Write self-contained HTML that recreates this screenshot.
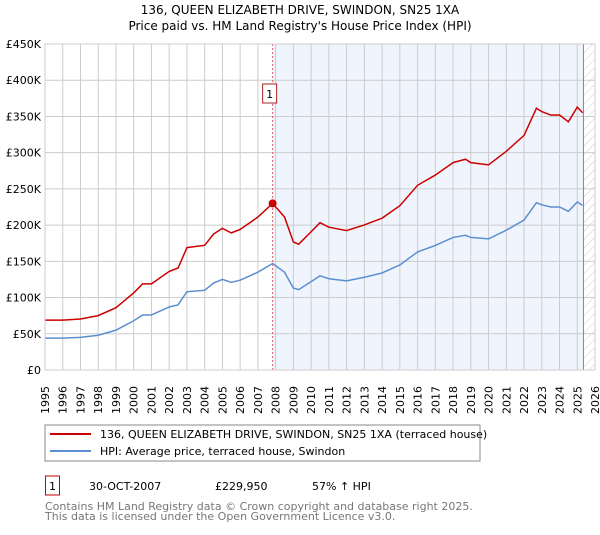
<!DOCTYPE html>
<html><head><meta charset="utf-8"><style>
body{margin:0;background:#fff;}
svg text{font-family:"DejaVu Sans","Liberation Sans",sans-serif;}
</style></head><body>
<svg id="chart" width="600" height="530" xmlns="http://www.w3.org/2000/svg">
<defs><pattern id="hatch" width="6" height="6" patternUnits="userSpaceOnUse" patternTransform="rotate(45)"><line x1="0" y1="0" x2="0" y2="6" stroke="#ccc" stroke-width="1"/></pattern></defs>
<text x="300" y="14" text-anchor="middle" font-size="12">136, QUEEN ELIZABETH DRIVE, SWINDON, SN25 1XA</text>
<text x="300" y="30" text-anchor="middle" font-size="12">Price paid vs. HM Land Registry's House Price Index (HPI)</text>
<g id="grid"></g><g id="marks"></g><g id="axes"></g>
<rect x="45" y="425" width="435" height="36" fill="#fff" stroke="#888"/>
<line x1="50" y1="434" x2="91" y2="434" stroke="#cc0000" stroke-width="2"/>
<text x="100" y="438" font-size="11">136, QUEEN ELIZABETH DRIVE, SWINDON, SN25 1XA (terraced house)</text>
<line x1="50" y1="451" x2="91" y2="451" stroke="#5b8fd0" stroke-width="2"/>
<text x="100" y="455" font-size="11">HPI: Average price, terraced house, Swindon</text>
<rect x="45.5" y="476" width="14" height="19" fill="#fff" stroke="#cc0000"/>
<text x="52.5" y="490" text-anchor="middle" font-size="11">1</text>
<text x="89" y="490" font-size="11">30-OCT-2007</text>
<text x="215" y="490" font-size="11">£229,950</text>
<text x="312" y="490" font-size="11">57% ↑ HPI</text>
<text x="45" y="510" font-size="11" fill="#777">Contains HM Land Registry data © Crown copyright and database right 2025.</text>
<text x="45" y="520" font-size="11" fill="#777">This data is licensed under the Open Government Licence v3.0.</text>
</svg>
<script>
const hpiYears=[1995,1996,1997,1998,1999,2000,2000.5,2001,2002,2002.5,2003,2004,2004.5,2005,2005.5,2006,2007,2007.83,2008.5,2009,2009.3,2010,2010.5,2011,2012,2013,2014,2015,2016,2017,2018,2018.7,2019,2020,2021,2022,2022.7,2023,2023.5,2024,2024.5,2025,2025.3];
const hpiValues=[44000,44000,45000,48000,55000,68000,76000,76000,87000,90000,108000,110000,120000,125000,121000,124000,135000,147000,135000,113000,111000,122000,130000,126000,123000,128000,134000,145000,163000,172000,183000,186000,183000,181000,193000,207000,231000,228000,225000,225000,219000,232000,227000];
const saleYear=2007.83, salePrice=229950, saleHpi=147000;
const yTicks=[0,50000,100000,150000,200000,250000,300000,350000,400000,450000];
const yTickLabels=["£0","£50K","£100K","£150K","£200K","£250K","£300K","£350K","£400K","£450K"];
const xYears=[1995,1996,1997,1998,1999,2000,2001,2002,2003,2004,2005,2006,2007,2008,2009,2010,2011,2012,2013,2014,2015,2016,2017,2018,2019,2020,2021,2022,2023,2024,2025,2026];
const L=45,R=595,T=44,B=370,dataEnd=2025.35;
const X=y=>L+(y-1995)/(2026-1995)*(R-L);
const Y=v=>B-v/450000*(B-T);
const NS="http://www.w3.org/2000/svg";
function mk(p,t,a){const e=document.createElementNS(NS,t);for(const k in a)e.setAttribute(k,a[k]);p.appendChild(e);return e;}
const grid=document.getElementById('grid'),marks=document.getElementById('marks'),axes=document.getElementById('axes');
const sh=mk(grid,'rect',{x:X(saleYear),y:T,width:X(dataEnd)-X(saleYear),height:B-T,fill:'#f0f4fd'});


const ht=mk(grid,'rect',{x:X(dataEnd),y:T,width:R-X(dataEnd),height:B-T,fill:'url(#hatch)'});


yTicks.forEach((v,i)=>{
 const g=mk(grid,'line',{x1:L,x2:R,y1:Y(v),y2:Y(v),stroke:'#ccc','stroke-width':1});
 
 
 const t=mk(axes,'text',{x:L-4,y:Y(v)+4,'text-anchor':'end','font-size':11});
 t.textContent=yTickLabels[i];
 
 
});
xYears.forEach(yr=>{
 const g=mk(grid,'line',{x1:X(yr),x2:X(yr),y1:T,y2:B,stroke:'#ccc','stroke-width':1});
 
 
 const t=mk(axes,'text',{x:0,y:0,'font-size':11,transform:`translate(${X(yr)+4},414) rotate(-90)`});
 t.textContent=yr;
 
 
});
const ed=mk(grid,'line',{x1:X(dataEnd),x2:X(dataEnd),y1:T,y2:B,stroke:'#888','stroke-width':1});


const vl=mk(marks,'line',{x1:X(saleYear),x2:X(saleYear),y1:T,y2:B,stroke:'#e06060','stroke-width':1,'stroke-dasharray':'2,2'});


const hp=mk(marks,'polyline',{points:hpiYears.map((y,i)=>X(y)+','+Y(hpiValues[i])).join(' '),fill:'none',stroke:'#5b8fd0','stroke-width':1.5});


const ratio=salePrice/saleHpi;
const pp=mk(marks,'polyline',{points:hpiYears.map((y,i)=>X(y)+','+Y(hpiValues[i]*ratio)).join(' '),fill:'none',stroke:'#cc0000','stroke-width':1.5});


const dot=mk(marks,'circle',{cx:X(saleYear),cy:Y(salePrice),r:4,fill:'#cc0000'});


const lb=mk(marks,'rect',{x:X(saleYear)-10,y:84,width:14,height:19,fill:'#fff',stroke:'#aa2222'});


const lt=mk(marks,'text',{x:X(saleYear)-3,y:98,'text-anchor':'middle','font-size':11});
lt.textContent='1';


const fr=mk(axes,'rect',{x:L,y:T,width:R-L,height:B-T,fill:'none',stroke:'#ccc'});


</script>
</body></html>
